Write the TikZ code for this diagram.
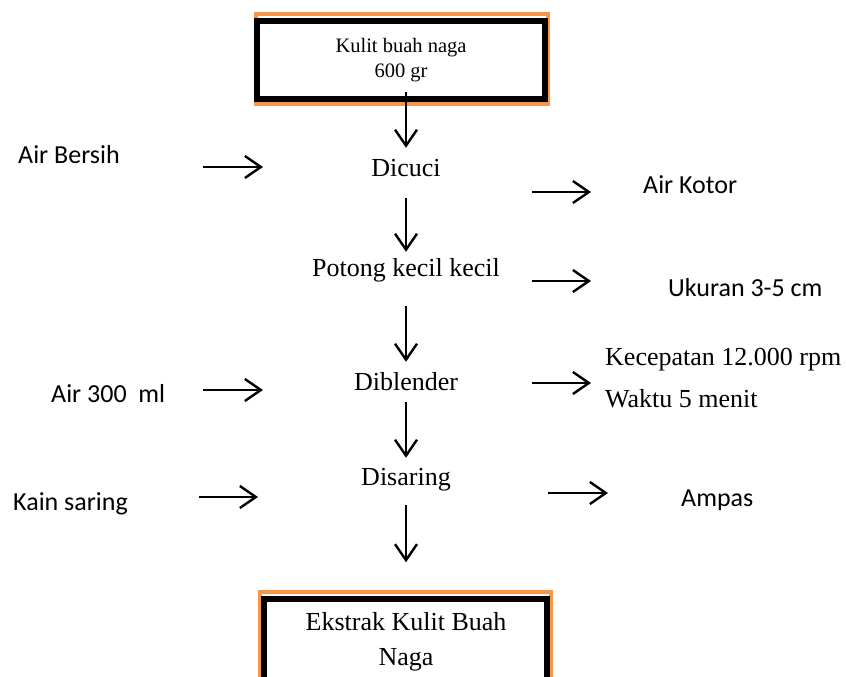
\documentclass[tikz,border=0pt]{standalone}
\usepackage{fontspec}
\setmainfont{Liberation Serif}
\newfontfamily\calibrifont{Carlito}
\usetikzlibrary{arrows.meta}

\tikzset{
    stage/.style={font=\fontsize{26}{30}\selectfont, inner sep=0pt, text height=18pt, text depth=6pt, anchor=base},
    side/.style={font=\calibrifont\fontsize{26}{30}\selectfont, inner sep=0pt, anchor=base west},
    note/.style={font=\fontsize{26}{30}\selectfont, inner sep=0pt, anchor=base west},
    arr/.style={-{Straight Barb[length=16pt,width=22pt]}, line width=2.4pt},
}

\begin{document}
\begin{tikzpicture}[x=1pt, y=-1pt]
        % Color palette
        \definecolor{boxorange}{RGB}{247,150,70}
        \path[use as bounding box, clip] (0,0) rectangle (846,677);

        % Start and end boxes
        \draw[boxorange, line width=4pt] (256,14) rectangle (548,104);
        \node[draw, line width=5.5pt, minimum width=288pt, minimum height=78pt, align=center, font=\fontsize{20.5}{25}\selectfont] (kulit) at (401,60) {Kulit buah naga\\600 gr};
        \draw[boxorange, line width=4pt] (260,592) rectangle (551,720);
        \node[draw, line width=5.5pt, minimum width=283pt, minimum height=122pt] (ekstrakbox) at (405.5,660) {};
        \node[font=\fontsize{26}{35}\selectfont, align=center] (ekstrak) at (406,641.5) {Ekstrak Kulit Buah\\Naga};

        % Process steps
        \node[stage] (dicuci) at (406,176) {Dicuci};
        \node[stage] (potong) at (406,276) {Potong kecil kecil};
        \node[stage] (blender) at (406,390) {Diblender};
        \node[stage] (saring) at (406,485) {Disaring};

        % Inputs and outputs
        \node[side] (bersih) at (18,163) {Air Bersih};
        \node[side] (kotor) at (643,193) {Air Kotor};
        \node[side] (ukuran) at (668,296) {Ukuran 3-5 cm};
        \node[side] (air) at (51,402) {Air 300\ \ ml};
        \node[note] (kecepatan) at (605,365) {Kecepatan 12.000 rpm};
        \node[note] (waktu) at (605,407) {Waktu 5 menit};
        \node[side] (kain) at (13,510) {Kain saring};
        \node[side] (ampas) at (681,506) {Ampas};

        % Arrow positions
        \coordinate (bersihA) at (203,167);
        \coordinate (kotorA) at (532,192);
        \coordinate (ukuranA) at (532,281);
        \coordinate (airA) at (203,390);
        \coordinate (kecepatanA) at (532,383);
        \coordinate (kainA) at (199,497);
        \coordinate (ampasA) at (548,493);

        % Edges
        \draw[arr, shorten <=32pt, shorten >=10pt] (kulit -| dicuci) -- (dicuci.north);
        \draw[arr, shorten <=16pt, shorten >=6pt] (dicuci.south) -- (potong.north);
        \draw[arr, shorten <=24pt, shorten >=10pt] (potong.south) -- (blender.north);
        \draw[arr, shorten <=6pt, shorten >=9pt] (blender.south) -- (saring.north);
        \draw[arr, shorten <=14pt, shorten >=34pt] (saring.south) -- (ekstrakbox.north -| saring);

        \draw[arr] (bersihA) -- ++(60,0);
        \draw[arr] (kotorA) -- ++(59,0);
        \draw[arr] (ukuranA) -- ++(59,0);
        \draw[arr] (airA) -- ++(60,0);
        \draw[arr] (kecepatanA) -- ++(59,0);
        \draw[arr] (kainA) -- ++(59,0);
        \draw[arr] (ampasA) -- ++(60,0);

    \end{tikzpicture}
\end{document}
